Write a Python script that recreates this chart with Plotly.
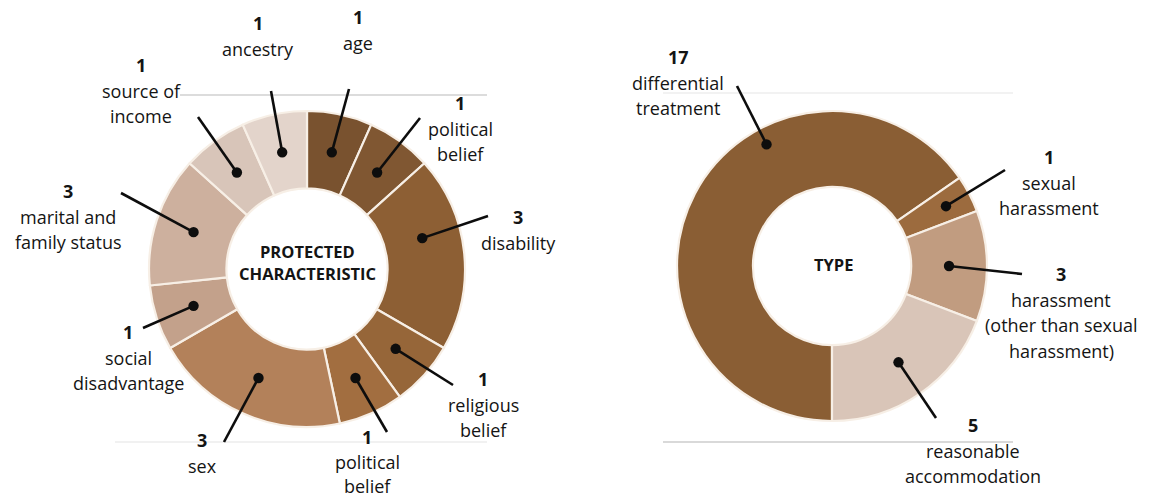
import math
import plotly.graph_objects as go

W, H = 1156, 499

# ---------------- data ----------------
# Left donut: protected characteristic (clockwise from 12 o'clock)
pc_names = ["age", "political belief", "disability", "religious belief", "political belief",
            "sex", "social disadvantage", "marital and family status", "source of income", "ancestry"]
pc_counts = [1, 1, 3, 1, 1, 3, 1, 3, 1, 1]          # numbers printed on the chart
pc_slice_units = [1, 1, 3, 1, 1, 3, 1, 2, 1, 1]     # slice sizes as drawn in the picture
pc_label_lines = [["age"], ["political", "belief"], ["disability"], ["religious", "belief"],
                  ["political", "belief"], ["sex"], ["social", "disadvantage"],
                  ["marital and", "family status"], ["source of", "income"], ["ancestry"]]
pc_colors = ["#79522f", "#805732", "#8d5f34", "#966639", "#a26e40",
             "#b3815a", "#c3a18b", "#cdb09e", "#d8c5b9", "#e3d4cb"]

# Right donut: type (clockwise from 6 o'clock)
type_names = ["differential treatment", "sexual harassment",
              "harassment (other than sexual harassment)", "reasonable accommodation"]
type_counts = [17, 1, 3, 5]
type_label_lines = [["differential", "treatment"], ["sexual", "harassment"],
                    ["harassment", "(other than sexual", "harassment)"],
                    ["reasonable", "accommodation"]]
type_colors = ["#8a5e34", "#9c6b3e", "#c19c80", "#d9c5b8"]

# ---------------- layout config (pixels) ----------------
LEFT = dict(cx=307, cy=269, r=158, hole=0.51, rotation=0)
RIGHT = dict(cx=832, cy=266, r=155, hole=0.51, rotation=180)

# label placement: text centre x, first-line y, leader end, optional leader angle shift
pc_place = [
    dict(tx=358, ty=17, end=(349, 89)),
    dict(tx=460, ty=103, end=(420, 118)),
    dict(tx=518, ty=217, end=(488, 216), shift=-9),
    dict(tx=483, ty=379, end=(453, 385)),
    dict(tx=367, ty=437, end=(387, 432), gap=24.5),
    dict(tx=202, ty=440, end=(224, 442)),
    dict(tx=128, ty=332, end=(143, 328)),
    dict(tx=68, ty=191, end=(121, 193)),
    dict(tx=141, ty=65, end=(198, 117)),
    dict(tx=258, ty=23, end=(271, 91)),
]
type_place = [
    dict(tx=678, ty=57, end=(737, 86), shift=34, rf=1.18),
    dict(tx=1049, ty=157, end=(1005, 170), rf=1.1),
    dict(tx=1061, ty=274, end=(1022, 274)),
    dict(tx=973, ty=425, end=(936, 418)),
]

LINE_GAP = 25.5
TXT = "#141414"
FONT = "Open Sans"


def px(x):
    return x / W


def py(y):
    return 1 - y / H


def domain(c):
    return dict(x=[px(c["cx"] - c["r"]), px(c["cx"] + c["r"])],
                y=[py(c["cy"] + c["r"]), py(c["cy"] - c["r"])])


fig = go.Figure()
for c, names, vals, cols in [(LEFT, pc_names, pc_slice_units, pc_colors),
                             (RIGHT, type_names, type_counts, type_colors)]:
    fig.add_trace(go.Pie(
        labels=[f"{i}:{n}" for i, n in enumerate(names)], values=vals,
        sort=False, direction="clockwise", rotation=c["rotation"], hole=c["hole"],
        marker=dict(colors=cols, line=dict(color="#f7efe6", width=2.2)),
        textinfo="none", hoverinfo="skip", showlegend=False, domain=domain(c)))

shapes = []
annotations = []

# faint frame rules
for (x0, x1, y, col) in [(180, 487, 95, "#dcdcdc"), (115, 487, 442, "#f1f1f1"),
                         (663, 1013, 93, "#f2f2f2"), (663, 1013, 442, "#d9d9d9")]:
    shapes.append(dict(type="line", xref="paper", yref="paper", x0=px(x0), x1=px(x1),
                       y0=py(y), y1=py(y), line=dict(color=col, width=2), layer="below"))


def add_labels(c, vals, counts, lines, places):
    total = sum(vals)
    cum = 0
    rmid = c["r"] * (1 + c["hole"]) / 2
    for v, n, ls, p in zip(vals, counts, lines, places):
        ang = c["rotation"] + (cum + v / 2) * 360 / total + p.get("shift", 0)
        cum += v
        rr = rmid * p.get("rf", 1.0)
        dx = c["cx"] + rr * math.sin(math.radians(ang))
        dy = c["cy"] - rr * math.cos(math.radians(ang))
        ex, ey = p["end"]
        shapes.append(dict(type="line", xref="paper", yref="paper", x0=px(dx), y0=py(dy),
                           x1=px(ex), y1=py(ey), line=dict(color="#0d0d0d", width=2.6)))
        shapes.append(dict(type="circle", xref="paper", yref="paper", xsizemode="pixel",
                           ysizemode="pixel", xanchor=px(dx), yanchor=py(dy),
                           x0=-5.2, x1=5.2, y0=-5.2, y1=5.2, fillcolor="#0d0d0d",
                           line=dict(width=0)))
        rows = [(f"<b>{n}</b>", True)] + [(t, False) for t in ls]
        gap = p.get("gap", LINE_GAP)
        for i, (t, b) in enumerate(rows):
            annotations.append(dict(xref="paper", yref="paper", x=px(p["tx"]),
                                    y=py(p["ty"] + i * gap), text=t, showarrow=False,
                                    xanchor="center", yanchor="middle",
                                    font=dict(family=FONT, size=18, color=TXT)))


add_labels(LEFT, pc_slice_units, pc_counts, pc_label_lines, pc_place)
add_labels(RIGHT, type_counts, type_counts, type_label_lines, type_place)

# centre titles
for t, x, y in [("PROTECTED", 307, 252), ("CHARACTERISTIC", 307, 273), ("TYPE", 833, 264)]:
    annotations.append(dict(xref="paper", yref="paper", x=px(x), y=py(y), text=f"<b>{t}</b>",
                            showarrow=False, xanchor="center", yanchor="middle",
                            font=dict(family=FONT, size=16.5, color=TXT)))

fig.update_layout(width=W, height=H, margin=dict(l=0, r=0, t=0, b=0),
                  paper_bgcolor="white", plot_bgcolor="white",
                  shapes=shapes, annotations=annotations, showlegend=False)

fig.write_html("out.html")
